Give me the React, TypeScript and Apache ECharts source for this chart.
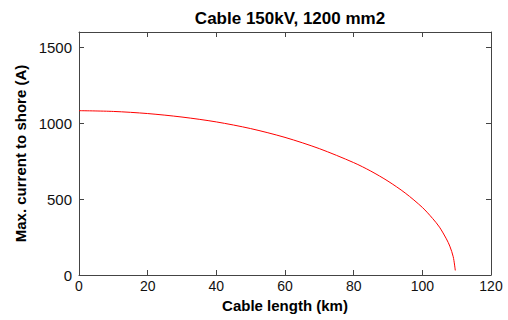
import React, { useEffect, useRef } from "react";
import * as echarts from "echarts";

const lengthKm = [0, 10, 20, 30, 40, 50, 60, 70, 80, 85, 90, 95, 100, 103, 105, 107, 108, 109, 109.6];
const currentA = [1082, 1077, 1063, 1040, 1008, 964, 906, 832, 740, 684, 618, 540, 445, 372, 315, 238, 190, 120, 30];

const titleText = "Cable 150kV, 1200 mm2";
const xName = "Cable length (km)";
const yName = "Max. current to shore (A)";

export default function App() {
  const ref = useRef<HTMLDivElement>(null);
  useEffect(() => {
    if (!ref.current) return;
    const chart = echarts.init(ref.current, undefined, { renderer: "svg" });
    const font = "Liberation Sans, Arial, sans-serif";
    const axisColor = "#444";
    const data = lengthKm.map((x, i) => [x, currentA[i]]);
    chart.setOption({
      animation: false,
      backgroundColor: "#fff",
      title: {
        text: titleText,
        left: 285,
        top: 5,
        textAlign: "center",
        textStyle: { fontFamily: font, fontSize: 17, fontWeight: "bold", color: "#000" },
      },
      grid: { left: 79, right: 17, top: 32, bottom: 45, containLabel: false },
      xAxis: [
        {
          type: "value",
          min: 0,
          max: 120,
          interval: 20,
          name: xName,
          nameLocation: "middle",
          nameGap: 21,
          nameTextStyle: { fontFamily: font, fontSize: 15, fontWeight: "bold", color: "#000" },
          axisLine: { onZero: false, lineStyle: { color: axisColor, width: 1 } },
          axisTick: { inside: true, length: 5, lineStyle: { color: axisColor } },
          axisLabel: { fontFamily: font, fontSize: 14, color: "#111", margin: 4 },
          splitLine: { show: false },
        },
        {
          type: "value",
          position: "top",
          min: 0,
          max: 120,
          interval: 20,
          axisLine: { onZero: false, lineStyle: { color: axisColor, width: 1 } },
          axisTick: { inside: true, length: 5, lineStyle: { color: axisColor } },
          axisLabel: { show: false },
          splitLine: { show: false },
        },
      ],
      yAxis: [
        {
          type: "value",
          min: 0,
          max: 1600,
          interval: 500,
          name: yName,
          nameLocation: "middle",
          nameGap: 47,
          nameTextStyle: { fontFamily: font, fontSize: 15, fontWeight: "bold", color: "#000" },
          axisLine: { show: true, onZero: false, lineStyle: { color: axisColor, width: 1 } },
          axisTick: { show: true, inside: true, length: 5, lineStyle: { color: axisColor } },
          axisLabel: {
            fontFamily: font,
            fontSize: 15,
            color: "#111",
            margin: 7,
            showMaxLabel: false,
            formatter: (v: number) => (v % 500 === 0 ? String(v) : ""),
          },
          splitLine: { show: false },
        },
        {
          type: "value",
          position: "right",
          min: 0,
          max: 1600,
          interval: 500,
          axisLine: { show: true, onZero: false, lineStyle: { color: axisColor, width: 1 } },
          axisTick: { show: true, inside: true, length: 5, lineStyle: { color: axisColor } },
          axisLabel: { show: false },
          splitLine: { show: false },
        },
      ],
      series: [
        {
          type: "line",
          data,
          xAxisIndex: 0,
          yAxisIndex: 0,
          showSymbol: false,
          smooth: 0.3,
          lineStyle: { color: "#ff0000", width: 1 },
          itemStyle: { color: "#ff0000" },
        },
      ],
    });
    return () => chart.dispose();
  }, []);
  return (
    <div
      ref={ref}
      style={{ position: "fixed", left: 0, top: 0, width: 508, height: 320 }}
    />
  );
}
